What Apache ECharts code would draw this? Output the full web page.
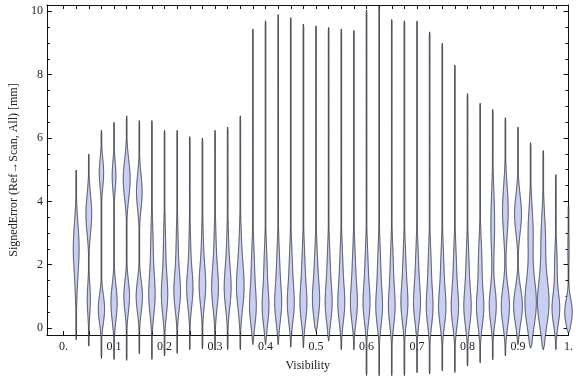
<!DOCTYPE html>
<html>
<head>
<meta charset="utf-8">
<script src="https://cdn.jsdelivr.net/npm/echarts@6/dist/echarts.min.js"></script>
<style>
  html, body { margin: 0; padding: 0; background: #fff; }
  #chart { width: 576px; height: 377px; }
</style>
</head>
<body>
<div id="chart"></div>
<script>
// one violin per visibility bin
const visibility = [0.025, 0.05, 0.075, 0.1, 0.125, 0.15, 0.175, 0.2, 0.225, 0.25,
  0.275, 0.3, 0.325, 0.35, 0.375, 0.4, 0.425, 0.45, 0.475, 0.5,
  0.525, 0.55, 0.575, 0.6, 0.625, 0.65, 0.675, 0.7, 0.725, 0.75,
  0.775, 0.8, 0.825, 0.85, 0.875, 0.9, 0.925, 0.95, 0.975, 1.0]

// range of signed error in each bin (mm)
const errMin = [-0.37, -0.57, -0.96, -0.99, -1.02, -0.81, -0.99, -0.88, -0.8, -0.68,
  -0.66, -0.68, -0.68, -0.68, -0.52, -0.52, -0.52, -0.6, -0.62, -0.1,
  -0.41, -0.68, -0.68, -1.5, -1.5, -1.5, -1.5, -1.41, -1.45, -1.35,
  -1.4, -1.2, -1.1, -1.0, -0.88, -0.52, -0.63, -0.68, -0.68, -0.16]
const errMax = [5.0, 5.5, 6.25, 6.5, 6.7, 6.55, 6.55, 6.25, 6.25, 6.05,
  6.0, 6.25, 6.35, 6.7, 9.45, 9.7, 9.9, 9.8, 9.6, 9.55,
  9.5, 9.45, 9.4, 10.05, 10.2, 9.75, 9.7, 9.7, 9.35, 9.0,
  8.3, 7.4, 7.1, 6.9, 6.65, 6.35, 5.85, 5.6, 4.85, 3.9]

// density shape: lower and upper mode (centre, spread, relative peak density)
const lowMode = [1.0, 0.9, 0.6, 0.8, 1.0, 1.0, 1.0, 1.0, 1.1, 1.2,
  1.3, 1.2, 1.2, 1.2, 0.6, 0.6, 0.7, 0.7, 0.7, 0.8,
  0.7, 0.7, 0.7, 0.7, 0.6, 0.6, 0.7, 0.7, 0.6, 0.6,
  0.6, 0.6, 0.6, 0.7, 0.7, 0.7, 0.8, 0.8, 0.6, 0.5]
const lowSpread = [0.5, 0.5, 0.45, 0.55, 0.5, 0.5, 0.6, 0.6, 0.55, 0.55,
  0.6, 0.6, 0.6, 0.65, 0.55, 0.55, 0.55, 0.55, 0.55, 0.55,
  0.55, 0.55, 0.55, 0.55, 0.55, 0.55, 0.55, 0.55, 0.55, 0.55,
  0.55, 0.55, 0.55, 0.55, 0.6, 0.55, 0.75, 0.75, 0.5, 0.4]
const lowPeak = [0.05, 0.25, 0.5, 0.5, 0.45, 0.5, 0.45, 0.45, 0.45, 0.42,
  0.45, 0.45, 0.45, 0.48, 0.45, 0.45, 0.45, 0.45, 0.45, 0.45,
  0.45, 0.45, 0.45, 0.45, 0.45, 0.45, 0.45, 0.45, 0.45, 0.5,
  0.5, 0.5, 0.52, 0.55, 0.65, 0.7, 0.9, 0.9, 0.6, 0.6]
const highMode = [2.5, 3.6, 4.9, 4.8, 4.7, 4.3, 2.4, 2.4, 2.3, 2.2,
  2.4, 2.3, 2.2, 2.2, 1.8, 1.8, 1.8, 1.8, 1.8, 1.8,
  1.8, 1.8, 1.8, 1.8, 1.8, 1.8, 1.8, 1.8, 1.8, 1.8,
  1.8, 1.8, 2.0, 3.3, 3.7, 3.6, 3.0, 2.8, 2.0, 2.5]
const highSpread = [0.8, 0.6, 0.45, 0.45, 0.6, 0.55, 0.9, 0.9, 0.9, 0.9,
  0.9, 0.9, 0.9, 0.9, 0.8, 0.8, 0.8, 0.8, 0.8, 0.8,
  0.8, 0.8, 0.8, 0.8, 0.8, 0.8, 0.8, 0.8, 0.8, 0.8,
  0.8, 0.8, 0.8, 1.0, 0.8, 0.6, 0.8, 0.8, 0.6, 0.6]
const highPeak = [0.46, 0.46, 0.35, 0.3, 0.55, 0.45, 0.2, 0.18, 0.18, 0.15,
  0.15, 0.18, 0.18, 0.22, 0.25, 0.25, 0.25, 0.25, 0.25, 0.25,
  0.25, 0.25, 0.25, 0.25, 0.25, 0.25, 0.25, 0.25, 0.25, 0.25,
  0.25, 0.25, 0.28, 0.3, 0.45, 0.55, 0.4, 0.35, 0.2, 0.1]

// axis ticks / labels
const xTickValues = [0].concat(visibility)
const xLabelValues = [0, 0.1, 0.2, 0.3, 0.4, 0.5, 0.6, 0.7, 0.8, 0.9, 1.0]
const xLabels = ['0.', '0.1', '0.2', '0.3', '0.4', '0.5', '0.6', '0.7', '0.8', '0.9', '1.']

const violinData = visibility.map((v, i) => [
  v, errMin[i], errMax[i],
  lowMode[i], lowSpread[i], lowPeak[i],
  highMode[i], highSpread[i], highPeak[i]
])

const FONT = "'Liberation Serif', 'DejaVu Serif', serif"
const FRAME = '#111'

function density(y, lm, ls, lp, hm, hs, hp) {
  const a = (y - lm) / ls
  const b = (y - hm) / hs
  return Math.min(1, lp * Math.exp(-0.5 * a * a) + hp * Math.exp(-0.5 * b * b))
}

function renderViolin(params, api) {
  const x = api.value(0)
  const lo = api.value(1)
  const hi = api.value(2)
  const p = [3, 4, 5, 6, 7, 8].map(j => api.value(j))
  const maxHalf = api.size([0.0125, 0])[0]
  const left = []
  const right = []
  const step = 0.02
  for (let y = lo; y <= hi + 1e-9; y += step) {
    const c = api.coord([x, y])
    let w = density(y, ...p) * maxHalf
    // taper the very ends of the tails
    const edge = Math.min(y - lo, hi - y)
    w = Math.max(w, 0.35) * Math.min(1, edge / 0.15 + 0.2)
    left.push([c[0] - w, c[1]])
    right.push([c[0] + w, c[1]])
  }
  const points = left.concat(right.reverse())
  return {
    type: 'polygon',
    shape: { points: points },
    style: {
      fill: '#c8cff5',
      stroke: 'rgba(30, 30, 36, 0.8)',
      lineWidth: 1
    }
  }
}

const chart = echarts.init(document.getElementById('chart'))

const xCommon = {
  type: 'value',
  min: -0.033,
  max: 1.0,
  axisLine: { onZero: false, lineStyle: { color: FRAME, width: 1 } },
  axisTick: { inside: true, length: 4, customValues: xTickValues, lineStyle: { color: FRAME } },
  splitLine: { show: false }
}

const yCommon = {
  type: 'value',
  min: -0.22,
  max: 10.2,
  splitNumber: 5,
  axisLine: { show: true, onZero: false, lineStyle: { color: FRAME, width: 1 } },
  axisTick: { inside: true, length: 5, lineStyle: { color: FRAME } },
  minorTick: { show: true, splitNumber: 4, length: 3, lineStyle: { color: FRAME } },
  splitLine: { show: false }
}

chart.setOption({
  animation: false,
  grid: { left: 36, right: 4, top: 5, bottom: 40 },
  xAxis: [
    Object.assign({}, xCommon, {
      position: 'bottom',
      name: 'Visibility',
      nameLocation: 'middle',
      nameGap: 25,
      nameTextStyle: { fontFamily: FONT, fontSize: 12, color: '#222' },
      axisLabel: {
        customValues: xLabelValues,
        formatter: v => xLabels[xLabelValues.findIndex(t => Math.abs(t - v) < 1e-9)],
        fontFamily: FONT,
        fontSize: 12,
        color: '#222',
        margin: 6
      }
    }),
    Object.assign({}, xCommon, {
      position: 'top',
      axisLabel: { show: false }
    })
  ],
  yAxis: [
    Object.assign({}, yCommon, {
      position: 'left',
      name: 'SignedError (Ref\u2192Scan, All) [mm]',
      nameLocation: 'middle',
      nameGap: 19,
      nameRotate: 90,
      nameTextStyle: { fontFamily: FONT, fontSize: 12, color: '#222' },
      axisLabel: {
        fontFamily: FONT,
        fontSize: 12,
        color: '#222',
        margin: 4,
        showMinLabel: false,
        showMaxLabel: false
      }
    }),
    Object.assign({}, yCommon, {
      position: 'right',
      axisLabel: { show: false }
    })
  ],
  series: [{
    type: 'custom',
    xAxisIndex: 0,
    yAxisIndex: 0,
    clip: false,
    renderItem: renderViolin,
    data: violinData
  }]
})
</script>
</body>
</html>
